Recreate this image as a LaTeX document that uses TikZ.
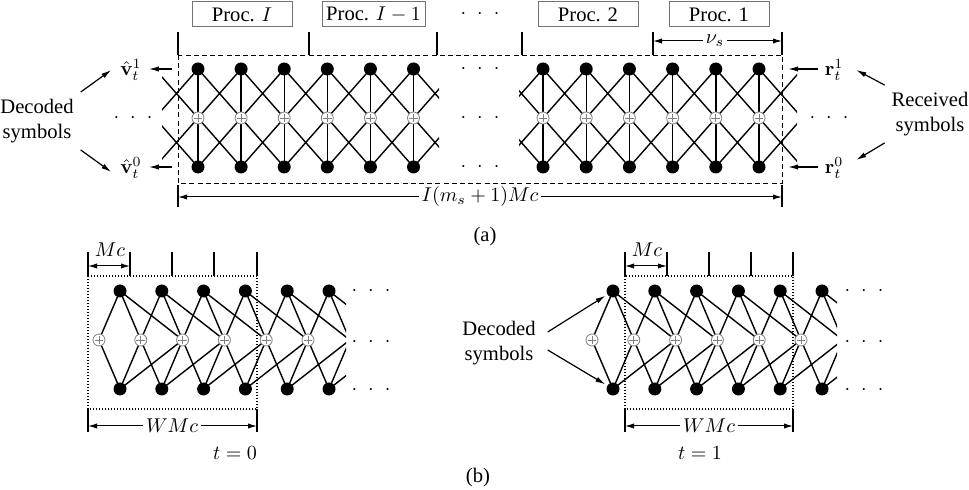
\documentclass[tikz,border=0pt]{standalone}
\usepackage[no-math]{fontspec}
\setmainfont{Liberation Serif}
\usetikzlibrary{arrows.meta,backgrounds}
\begin{document}
\begin{tikzpicture}[x=0.5pt,y=-0.5pt,
  font=\fontsize{10.3pt}{12.5pt}\selectfont,
  bdot/.style={circle,fill=black,inner sep=0pt,minimum size=6.5pt},
  xnode/.style={circle,draw=gray,fill=white,inner sep=0pt,minimum size=6pt,line width=0.4pt,
    path picture={\draw[gray,line width=0.35pt]
      ([yshift=-0.8pt]path picture bounding box.north) -- ([yshift=0.8pt]path picture bounding box.south)
      ([xshift=0.8pt]path picture bounding box.west) -- ([xshift=-0.8pt]path picture bounding box.east);}},
  gline/.style={line width=0.7pt},
  procbox/.style={draw=black!55,line width=0.5pt,minimum height=12.5pt,inner sep=0pt},
  tickln/.style={line width=0.55pt},
  dimarrow/.style={line width=0.5pt,{Latex[length=4.5pt,width=2.6pt]}-{Latex[length=4.5pt,width=2.6pt]}},
  ptr/.style={line width=0.6pt,-{Latex[length=5pt,width=2.6pt]}},
  dashbox/.style={line width=0.4pt,dash pattern=on 2.5pt off 1.6pt},
  dotbox/.style={line width=0.55pt,dash pattern=on 0.6pt off 0.9pt},
  lbl/.style={fill=white,inner sep=1.5pt},
  ell/.style={inner sep=0pt},
]
\useasboundingbox (0,0) rectangle (969,490);

% ================= (a) =================
\node[procbox,minimum width=50pt] (pI) at (242,14.5) {Proc. $I$};
\node[procbox,minimum width=51.5pt] (pI1) at (373.5,14.5) {Proc. $I-1$};
\node[ell] (pdots) at (480,14) {${\cdot}\;\;{\cdot}\;\;{\cdot}$};
\node[procbox,minimum width=50pt] (p2) at (588,14.5) {Proc. 2};
\node[procbox,minimum width=50pt] (p1) at (719,14.5) {Proc. 1};

\foreach \x in {178,309,437,522,653,782} \draw[tickln] (\x,32) -- (\x,55);
\draw[dimarrow] (653,41) -- (782,41);
\node[lbl] (nus) at (715,41) {$\nu_s$};

\draw[dashbox] (178,55) rectangle (782,183);

\draw[tickln] (178,185) -- (178,207);
\draw[tickln] (782,185) -- (782,207);
\draw[dimarrow] (178,197) -- (782,197);
\node[lbl] (Ilen) at (480,197) {$I(m_s+1)Mc$};

\foreach \k/\ts/\ps in {0/coordinate/coordinate,1/bdot/xnode,2/bdot/xnode,3/bdot/xnode,4/bdot/xnode,5/bdot/xnode,6/bdot/xnode,7/coordinate/coordinate}{
  \node[\ts] (aLT\k) at ({198+43.1*(\k-1)},69) {};
  \node[\ps] (aLP\k) at ({198+43.1*(\k-1)},118) {};
  \node[\ts] (aLB\k) at ({198+43.1*(\k-1)},167) {};
}
\foreach \k/\ts/\ps in {0/coordinate/coordinate,1/bdot/xnode,2/bdot/xnode,3/bdot/xnode,4/bdot/xnode,5/bdot/xnode,6/bdot/xnode,7/coordinate/coordinate}{
  \node[\ts] (aRT\k) at ({543+43.2*(\k-1)},69) {};
  \node[\ps] (aRP\k) at ({543+43.2*(\k-1)},118) {};
  \node[\ts] (aRB\k) at ({543+43.2*(\k-1)},167) {};
}
\begin{scope}[on background layer]
  \begin{scope}
    \clip (162,0) rectangle (439,250);
    \foreach \k in {1,...,6} \draw[gline] (aLT\k.center) -- (aLB\k.center);
    \foreach \k [evaluate=\k as \j using int(\k+1)] in {0,...,6}{
      \draw[gline] (aLT\k.center) -- (aLP\j.center) (aLP\k.center) -- (aLT\j.center)
                   (aLB\k.center) -- (aLP\j.center) (aLP\k.center) -- (aLB\j.center);
    }
  \end{scope}
  \begin{scope}
    \clip (519,0) rectangle (797,250);
    \foreach \k in {1,...,6} \draw[gline] (aRT\k.center) -- (aRB\k.center);
    \foreach \k [evaluate=\k as \j using int(\k+1)] in {0,...,6}{
      \draw[gline] (aRT\k.center) -- (aRP\j.center) (aRP\k.center) -- (aRT\j.center)
                   (aRB\k.center) -- (aRP\j.center) (aRP\k.center) -- (aRB\j.center);
    }
  \end{scope}
\end{scope}

\node[ell] (md1) at (480,69) {${\cdot}\;\;{\cdot}\;\;{\cdot}$};
\node[ell] (md2) at (480,118) {${\cdot}\;\;{\cdot}\;\;{\cdot}$};
\node[ell] (md3) at (480,167) {${\cdot}\;\;{\cdot}\;\;{\cdot}$};

\node (vT1) at (131,70) {$\hat{\mathbf{v}}_t^1$};
\node (vT0) at (131,168) {$\hat{\mathbf{v}}_t^0$};
\node[ell] (ldots) at (133,118) {${\cdot}\;\;{\cdot}\;\;{\cdot}$};
\node[align=center] (decA) at (37,121) {Decoded\\symbols};
\coordinate (vT1s) at (172,69);
\coordinate (vT0s) at (172,167);
\draw[ptr] (vT1s) -- (vT1s -| vT1.east);
\draw[ptr] (vT0s) -- (vT0s -| vT0.east);
\draw[ptr] (decA.north east) -- ([xshift=-1pt]vT1.west);
\draw[ptr] (decA.south east) -- ([xshift=-1pt,yshift=-2pt]vT0.west);

\node (rT1) at (834,70) {$\mathbf{r}_t^1$};
\node (rT0) at (834,168) {$\mathbf{r}_t^0$};
\node[ell] (rdots) at (829,118) {${\cdot}\;\;{\cdot}\;\;{\cdot}$};
\node[align=center] (recA) at (930,114) {Received\\symbols};
\coordinate (rT1e) at (788,69);
\coordinate (rT0e) at (788,167);
\draw[ptr] (rT1.west |- rT1e) -- (rT1e);
\draw[ptr] (rT0.west |- rT0e) -- (rT0e);
\draw[ptr] (recA.north west) -- ([xshift=3pt]rT1.east);
\draw[ptr] (recA.south west) -- ([xshift=3pt,yshift=4pt]rT0.east);

\node (capA) at (485,237) {(a)};

% ================= (b) left =================
\foreach \j in {0,...,5}{
  \node[bdot] (bLT\j) at ({120+41.8*\j},291) {};
  \node[bdot] (bLB\j) at ({120+41.8*\j},389) {};
}
\foreach \k/\ps in {0/xnode,1/xnode,2/xnode,3/xnode,4/xnode,5/xnode,6/coordinate,7/coordinate}
  \node[\ps] (bLP\k) at ({99+41.8*\k},340) {};
\begin{scope}[on background layer]
  \begin{scope}
  \clip (60,250) rectangle (346,420);
  \foreach \j [evaluate=\j as \a using int(\j+1), evaluate=\j as \b using int(\j+2)] in {0,...,5}{
    \draw[gline] (bLT\j.center) -- (bLP\j.center) (bLT\j.center) -- (bLP\a.center) (bLT\j.center) -- (bLP\b.center)
                 (bLB\j.center) -- (bLP\j.center) (bLB\j.center) -- (bLP\a.center) (bLB\j.center) -- (bLP\b.center);
  }
  \end{scope}
\end{scope}
\draw[dotbox] (88,276) rectangle (257,409);
\foreach \x in {88,130,172,214,257} \draw[tickln] (\x,252) -- (\x,276);
\draw[dimarrow] (88,266) -- (130,266);
\node (mcL) at (110,250) {$Mc$};
\draw[tickln] (88,409) -- (88,432);
\draw[tickln] (257,409) -- (257,432);
\draw[dimarrow] (88,426) -- (257,426);
\node[lbl] (wL) at (172,426) {$WMc$};
\node (t0) at (235,453) {$t=0$};
\node[ell] (bld1) at (371,291) {${\cdot}\;\;{\cdot}\;\;{\cdot}$};
\node[ell] (bld2) at (371,342) {${\cdot}\;\;{\cdot}\;\;{\cdot}$};
\node[ell] (bld3) at (371,390) {${\cdot}\;\;{\cdot}\;\;{\cdot}$};

% ================= (b) right =================
\foreach \j in {0,...,5}{
  \node[bdot] (bRT\j) at ({613+41.8*\j},291) {};
  \node[bdot] (bRB\j) at ({613+41.8*\j},389) {};
}
\foreach \k/\ps in {0/xnode,1/xnode,2/xnode,3/xnode,4/xnode,5/xnode,6/coordinate,7/coordinate}
  \node[\ps] (bRP\k) at ({592+41.8*\k},340) {};
\begin{scope}[on background layer]
  \begin{scope}
  \clip (560,250) rectangle (837,420);
  \foreach \j [evaluate=\j as \a using int(\j+1), evaluate=\j as \b using int(\j+2)] in {0,...,5}{
    \draw[gline] (bRT\j.center) -- (bRP\j.center) (bRT\j.center) -- (bRP\a.center) (bRT\j.center) -- (bRP\b.center)
                 (bRB\j.center) -- (bRP\j.center) (bRB\j.center) -- (bRP\a.center) (bRB\j.center) -- (bRP\b.center);
  }
  \end{scope}
\end{scope}
\draw[dotbox] (625,276) rectangle (793,409);
\foreach \x in {625,667,709,751,793} \draw[tickln] (\x,252) -- (\x,276);
\draw[dimarrow] (625,266) -- (667,266);
\node (mcR) at (647,250) {$Mc$};
\draw[tickln] (625,409) -- (625,432);
\draw[tickln] (793,409) -- (793,432);
\draw[dimarrow] (625,426) -- (793,426);
\node[lbl] (wR) at (709,426) {$WMc$};
\node (t1) at (700,453) {$t=1$};
\node[ell] (brd1) at (864,291) {${\cdot}\;\;{\cdot}\;\;{\cdot}$};
\node[ell] (brd2) at (864,342) {${\cdot}\;\;{\cdot}\;\;{\cdot}$};
\node[ell] (brd3) at (864,390) {${\cdot}\;\;{\cdot}\;\;{\cdot}$};

\node[align=center] (decB) at (499,343) {Decoded\\symbols};
\draw[ptr,shorten >=1pt] ([xshift=2.5pt,yshift=5.5pt]decB.east) -- (bRT0);
\draw[ptr,shorten >=1pt] ([xshift=2.5pt,yshift=-3.5pt]decB.east) -- (bRB0);

\node (capB) at (478,478) {(b)};
\end{tikzpicture}
\end{document}
